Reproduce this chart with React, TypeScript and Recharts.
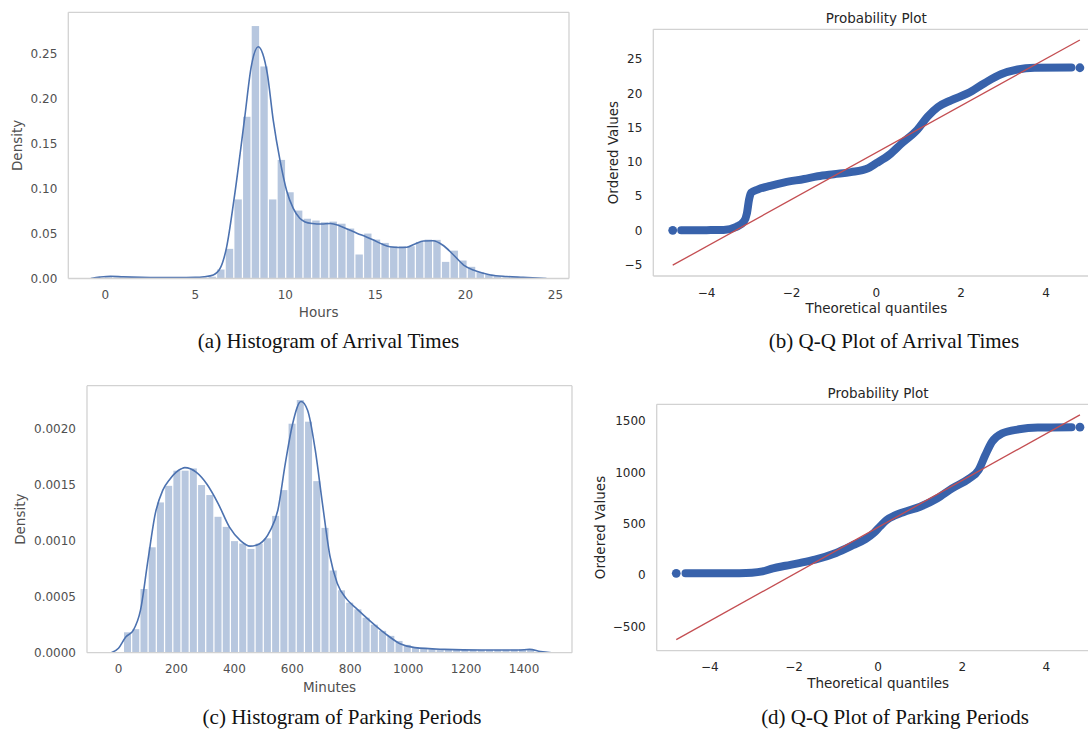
import React from "react";
import {
  ComposedChart,
  Bar,
  Line,
  Scatter,
  XAxis,
  YAxis,
  ReferenceLine,
} from "recharts";

// (a) arrival times – histogram bin centres (hours) and densities
const arrivalBinCenters = [
  0.18, 0.66, 1.14, 1.62, 2.1, 2.58, 3.06, 3.54, 4.02, 4.5, 4.98, 5.46, 5.94,
  6.42, 6.9, 7.38, 7.86, 8.34, 8.82, 9.3, 9.78, 10.26, 10.74, 11.22, 11.7,
  12.18, 12.66, 13.14, 13.62, 14.1, 14.58, 15.06, 15.54, 16.02, 16.5, 16.98,
  17.46, 17.94, 18.42, 18.9, 19.38, 19.86, 20.34, 20.82, 21.3, 21.78, 22.26,
  22.74, 23.22, 23.7,
];
const arrivalDensity = [
  0.002, 0.0012, 0.0006, 0.0005, 0.0005, 0.0005, 0.0005, 0.0005, 0.0005,
  0.0006, 0.0008, 0.0012, 0.002, 0.01, 0.033, 0.088, 0.18, 0.281, 0.236,
  0.088, 0.132, 0.096, 0.0756, 0.0665, 0.0645, 0.0626, 0.0633, 0.061, 0.0556,
  0.0267, 0.05, 0.0433, 0.0396, 0.0359, 0.0359, 0.0359, 0.0407, 0.0433, 0.043,
  0.0185, 0.031, 0.02, 0.013, 0.007, 0.0044, 0.0026, 0.0015, 0.001, 0.0007,
  0.0005,
];
// KDE curve of arrival times
const arrivalKdeX = [
  -0.8, -0.3, 0.3, 1.0, 2.0, 3.0, 4.0, 5.0, 5.5, 6.0, 6.4, 6.74, 7.15, 7.75,
  8.1, 8.5, 8.75, 9.0, 9.33, 9.7, 10.07, 10.44, 10.8, 11.1, 11.5, 12.0, 12.5,
  13.0, 13.5, 14.0, 14.5, 14.9, 15.4, 15.8, 16.3, 16.75, 17.2, 17.67, 18.2,
  18.75, 19.3, 19.9, 20.44, 21.0, 21.4, 22.3, 23.2, 24.0, 24.5,
];
const arrivalKdeY = [
  0, 0.0015, 0.0025, 0.0018, 0.0012, 0.001, 0.001, 0.0012, 0.002, 0.004, 0.012,
  0.035, 0.088, 0.18, 0.235, 0.258, 0.25, 0.228, 0.176, 0.132, 0.098, 0.078,
  0.067, 0.063, 0.0612, 0.0606, 0.0612, 0.0588, 0.0545, 0.0502, 0.0463,
  0.0428, 0.038, 0.0354, 0.0345, 0.0348, 0.0385, 0.0417, 0.042, 0.037, 0.027,
  0.015, 0.0094, 0.0058, 0.0039, 0.0022, 0.0013, 0.0005, 0,
];

// (b) Q-Q plot of arrival times
const arrivalQQx = [
  -4.6, -4.0, -3.6, -3.3, -3.12, -3.05, -3.0, -2.95, -2.8, -2.5, -2.16, -1.7,
  -1.38, -1.0, -0.6, -0.2, 0.0, 0.3, 0.6, 0.97, 1.21, 1.45, 1.76, 2.15, 2.55,
  2.94, 3.33, 3.73, 4.6,
];
const arrivalQQy = [
  0, 0.02, 0.05, 0.5, 1.3, 2.5, 4.5, 5.5, 5.95, 6.5, 7.0, 7.5, 7.9, 8.2, 8.5,
  9.05, 9.8, 11.0, 12.7, 14.7, 16.6, 18.0, 19.0, 20.0, 21.5, 22.8, 23.5, 23.75,
  23.8,
];
const arrivalQQEndX = [-4.8, 4.8];
const arrivalQQEndY = [0, 23.75];
const arrivalFitX = [-4.8, 4.8];
const arrivalFitY = [-5.1, 27.8];

// (c) parking periods – histogram bin centres (minutes) and densities
const parkingBinCenters = [
  31.2, 59.6, 88.0, 116.4, 144.8, 173.2, 201.6, 230.0, 258.4, 286.8, 315.2,
  343.6, 372.0, 400.4, 428.8, 457.2, 485.6, 514.0, 542.4, 570.8, 599.2, 627.6,
  656.0, 684.4, 712.8, 741.2, 769.6, 798.0, 826.4, 854.8, 883.2, 911.6, 940.0,
  968.4, 996.8, 1025.2, 1053.6, 1082.0, 1110.4, 1138.8, 1167.2, 1195.6, 1224.0,
  1252.4, 1280.8, 1309.2, 1337.6, 1366.0, 1394.4, 1422.8,
];
const parkingDensity = [
  0.000182, 0.00021, 0.000568, 0.00094, 0.00134, 0.001488, 0.001623, 0.001623,
  0.001643, 0.001495, 0.001406, 0.001212, 0.001122, 0.000995, 0.000973,
  0.000925, 0.000973, 0.00102, 0.00122, 0.00145, 0.002042, 0.002253, 0.00206,
  0.00153, 0.001113, 0.000733, 0.000556, 0.000446, 0.000387, 0.000312, 0.00025,
  0.000195, 0.00015, 0.000105, 0.00007, 0.000048, 0.000036, 0.00003, 0.000028,
  0.000027, 0.000026, 0.000026, 0.000025, 0.000025, 0.000025, 0.000025,
  0.000025, 0.000026, 0.00003, 0.000032,
];
const parkingKdeX = [
  -25, 0, 25, 51, 76, 102, 127, 153, 178, 217, 229, 268, 306, 344, 383, 421,
  454, 486, 524, 550, 576, 601, 630, 653, 679, 704, 730, 755, 787, 819, 870,
  921, 972, 1023, 1125, 1253, 1381, 1419, 1457, 1495,
];
const parkingKdeY = [
  0, 0.00004, 0.00014, 0.0002, 0.00038, 0.00083, 0.00124, 0.00145, 0.00155,
  0.00164, 0.00165, 0.00161, 0.0015, 0.00133, 0.00112, 0.001, 0.00095,
  0.00097, 0.00109, 0.00127, 0.00169, 0.00204, 0.00224, 0.00216, 0.00181,
  0.00133, 0.00086, 0.00062, 0.00048, 0.0004, 0.00028, 0.00017, 0.00008,
  0.000045, 0.00003, 0.000024, 0.000024, 0.00003, 0.00001, 0,
];

// (d) Q-Q plot of parking periods
const parkingQQx = [
  -4.58, -4.0, -3.3, -3.0, -2.75, -2.5, -2.2, -1.85, -1.5, -1.0, -0.6, -0.3,
  -0.1, 0.05, 0.2, 0.4, 0.6, 1.0, 1.4, 1.76, 2.15, 2.39, 2.55, 2.71, 2.95,
  3.35, 3.8, 4.6,
];
const parkingQQy = [
  16, 17, 18, 22, 35, 65, 90, 118, 150, 215, 290, 350, 410, 475, 535, 580, 612,
  665, 745, 844, 935, 1023, 1169, 1298, 1380, 1419, 1436, 1440,
];
const parkingQQEndX = [-4.8, 4.8];
const parkingQQEndY = [16, 1440];
const parkingFitX = [-4.8, 4.8];
const parkingFitY = [-630, 1560];

const pairs = (xs: number[], ys: number[]) =>
  xs.map((x, i) => ({ x, y: ys[i] }));

const arrivalBars = pairs(arrivalBinCenters, arrivalDensity);
const arrivalKde = pairs(arrivalKdeX, arrivalKdeY);
const arrivalQQ = pairs(arrivalQQx, arrivalQQy);
const arrivalQQEnds = pairs(arrivalQQEndX, arrivalQQEndY);
const arrivalFit = pairs(arrivalFitX, arrivalFitY);
const parkingBars = pairs(parkingBinCenters, parkingDensity);
const parkingKde = pairs(parkingKdeX, parkingKdeY);
const parkingQQ = pairs(parkingQQx, parkingQQy);
const parkingQQEnds = pairs(parkingQQEndX, parkingQQEndY);
const parkingFit = pairs(parkingFitX, parkingFitY);

const FONT = "DejaVu Sans";
const BLUE = "#4C72B0";
const QQ_BLUE = "#3862ab";
const RED = "#C44E52";
const FRAME = "#d2d2d2";
const HIST_TXT = "#505050";
const QQ_TXT = "#262626";

const minus = (v: number) => (v < 0 ? "\u2212" + Math.abs(v) : String(v));

// bar drawn centred on the position recharts computed, with a fixed width
const histBar = (w: number) => (p: any) => {
  if (!p.height || p.height <= 0) return <g />;
  const cx = p.x + p.width / 2;
  return (
    <rect
      x={cx - w / 2}
      y={p.y}
      width={w}
      height={p.height}
      fill={BLUE}
      fillOpacity={0.4}
    />
  );
};

function Histogram({
  bars,
  kde,
  xDomain,
  yDomain,
  xTicks,
  yTicks,
  yDigits,
  xLabel,
  width,
  height,
  margin,
  yAxisWidth,
  yLabelOffset,
  xLabelOffset,
  barSize,
}: any) {
  const tick = { fill: HIST_TXT, fontSize: 12, fontFamily: FONT };
  const lab = { fill: HIST_TXT, fontSize: 13.5, fontFamily: FONT };
  const frame = { stroke: FRAME, strokeWidth: 1.3 };
  return (
    <ComposedChart width={width} height={height} data={bars} margin={margin}>
      <XAxis
        dataKey="x"
        type="number"
        domain={xDomain}
        allowDataOverflow
        ticks={xTicks}
        tickLine={false}
        axisLine={frame}
        tick={tick}
        tickMargin={6}
        height={40}
        label={{ value: xLabel, position: "insideBottom", offset: xLabelOffset, ...lab }}
      />
      <YAxis
        dataKey="y"
        type="number"
        domain={yDomain}
        allowDataOverflow
        ticks={yTicks}
        tickFormatter={(v: number) => v.toFixed(yDigits)}
        tickLine={false}
        axisLine={frame}
        tick={tick}
        tickMargin={5}
        width={yAxisWidth}
        label={{
          value: "Density",
          angle: -90,
          position: "insideLeft",
          offset: yLabelOffset,
          style: { textAnchor: "middle" },
          ...lab,
        }}
      />
      <ReferenceLine y={yDomain[1]} stroke={FRAME} strokeWidth={1.3} />
      <ReferenceLine x={xDomain[1]} stroke={FRAME} strokeWidth={1.3} />
      <Bar
        dataKey="y"
        fill={BLUE}
        fillOpacity={0.4}
        barSize={barSize}
        shape={histBar(barSize)}
        isAnimationActive={false}
      />
      <Line
        data={kde}
        dataKey="y"
        type="monotone"
        stroke={BLUE}
        strokeWidth={1.6}
        dot={false}
        isAnimationActive={false}
      />
    </ComposedChart>
  );
}

function QQPlot({
  band,
  ends,
  fit,
  xDomain,
  yDomain,
  yTicks,
  width,
  height,
  margin,
  yAxisWidth,
  yLabelOffset,
  xLabelOffset,
  titleOffset,
}: any) {
  const tick = { fill: QQ_TXT, fontSize: 12, fontFamily: FONT };
  const lab = { fill: QQ_TXT, fontSize: 13.5, fontFamily: FONT };
  const frame = { stroke: FRAME, strokeWidth: 1.3 };
  return (
    <ComposedChart width={width} height={height} margin={margin}>
      <XAxis
        dataKey="x"
        type="number"
        domain={xDomain}
        allowDataOverflow
        ticks={[-4, -2, 0, 2, 4]}
        tickFormatter={minus}
        tickLine={false}
        axisLine={frame}
        tick={tick}
        tickMargin={6}
        height={40}
        label={{
          value: "Theoretical quantiles",
          position: "insideBottom",
          offset: xLabelOffset,
          ...lab,
        }}
      />
      <YAxis
        dataKey="y"
        type="number"
        domain={yDomain}
        allowDataOverflow
        ticks={yTicks}
        tickFormatter={minus}
        tickLine={false}
        axisLine={frame}
        tick={tick}
        tickMargin={5}
        width={yAxisWidth}
        label={{
          value: "Ordered Values",
          angle: -90,
          position: "insideLeft",
          offset: yLabelOffset,
          style: { textAnchor: "middle" },
          ...lab,
        }}
      />
      <ReferenceLine
        y={yDomain[1]}
        stroke={FRAME}
        strokeWidth={1.3}
        label={{ value: "Probability Plot", position: "top", offset: titleOffset, ...lab }}
      />
      <Line
        data={band}
        dataKey="y"
        type="monotone"
        stroke={QQ_BLUE}
        strokeWidth={8}
        strokeLinecap="round"
        strokeLinejoin="round"
        dot={false}
        isAnimationActive={false}
      />
      <Scatter
        data={ends}
        fill={QQ_BLUE}
        isAnimationActive={false}
        shape={(p: any) => <circle cx={p.cx} cy={p.cy} r={4.4} fill={QQ_BLUE} />}
      />
      <Line
        data={fit}
        dataKey="y"
        type="linear"
        stroke={RED}
        strokeWidth={1.3}
        dot={false}
        isAnimationActive={false}
      />
    </ComposedChart>
  );
}

const captionStyle = {
  fontFamily: "Liberation Serif",
  fontSize: 21,
  fill: "#111",
};

export default function App() {
  return (
    <div
      style={{
        position: "fixed",
        left: 0,
        top: 0,
        width: 1088,
        height: 731,
        overflow: "hidden",
        background: "#fff",
      }}
    >
      <div style={{ position: "absolute", left: 0, top: 0 }}>
        <Histogram
          bars={arrivalBars}
          kde={arrivalKde}
          xDomain={[-2.05, 25.75]}
          yDomain={[0, 0.2963]}
          xTicks={[0, 5, 10, 15, 20, 25]}
          yTicks={[0, 0.05, 0.1, 0.15, 0.2, 0.25]}
          yDigits={2}
          xLabel="Hours"
          width={580}
          height={320}
          margin={{ top: 12.3, right: 11, bottom: 1.5, left: 0 }}
          yAxisWidth={68.3}
          yLabelOffset={17.3}
          xLabelOffset={1.5}
          barSize={7.4}
        />
      </div>
      <div style={{ position: "absolute", left: 590, top: 0 }}>
        <QQPlot
          band={arrivalQQ}
          ends={arrivalQQEnds}
          fit={arrivalFit}
          xDomain={[-5.258, 5.258]}
          yDomain={[-6.68, 29.37]}
          yTicks={[-5, 0, 5, 10, 15, 20, 25]}
          width={520}
          height={320}
          margin={{ top: 29.3, right: 10.7, bottom: 4, left: 0 }}
          yAxisWidth={63.3}
          yLabelOffset={23.3}
          xLabelOffset={2.8}
          titleOffset={6.7}
        />
      </div>
      <div style={{ position: "absolute", left: 0, top: 370 }}>
        <Histogram
          bars={parkingBars}
          kde={parkingKde}
          xDomain={[-108.7, 1565.4]}
          yDomain={[0, 0.002381]}
          xTicks={[0, 200, 400, 600, 800, 1000, 1200, 1400]}
          yTicks={[0, 0.0005, 0.001, 0.0015, 0.002]}
          yDigits={4}
          xLabel="Minutes"
          width={580}
          height={326}
          margin={{ top: 15.7, right: 8, bottom: 3.3, left: 0 }}
          yAxisWidth={87}
          yLabelOffset={20.4}
          xLabelOffset={1}
          barSize={7}
        />
      </div>
      <div style={{ position: "absolute", left: 590, top: 370 }}>
        <QQPlot
          band={parkingQQ}
          ends={parkingQQEnds}
          fit={parkingFit}
          xDomain={[-5.265, 5.265]}
          yDomain={[-737.3, 1662.6]}
          yTicks={[-500, 0, 500, 1000, 1500]}
          width={520}
          height={330}
          margin={{ top: 34.3, right: 10.5, bottom: 9.3, left: 0 }}
          yAxisWidth={66.7}
          yLabelOffset={10}
          xLabelOffset={2.5}
          titleOffset={6.1}
        />
      </div>
      <svg
        width={1088}
        height={731}
        style={{ position: "absolute", left: 0, top: 0, pointerEvents: "none" }}
      >
        <text x={328.5} y={347.5} textAnchor="middle" {...captionStyle}>
          (a) Histogram of Arrival Times
        </text>
        <text x={894} y={347.5} textAnchor="middle" {...captionStyle}>
          (b) Q-Q Plot of Arrival Times
        </text>
        <text x={342} y={724} textAnchor="middle" {...captionStyle}>
          (c) Histogram of Parking Periods
        </text>
        <text x={895} y={724} textAnchor="middle" {...captionStyle}>
          (d) Q-Q Plot of Parking Periods
        </text>
      </svg>
    </div>
  );
}
